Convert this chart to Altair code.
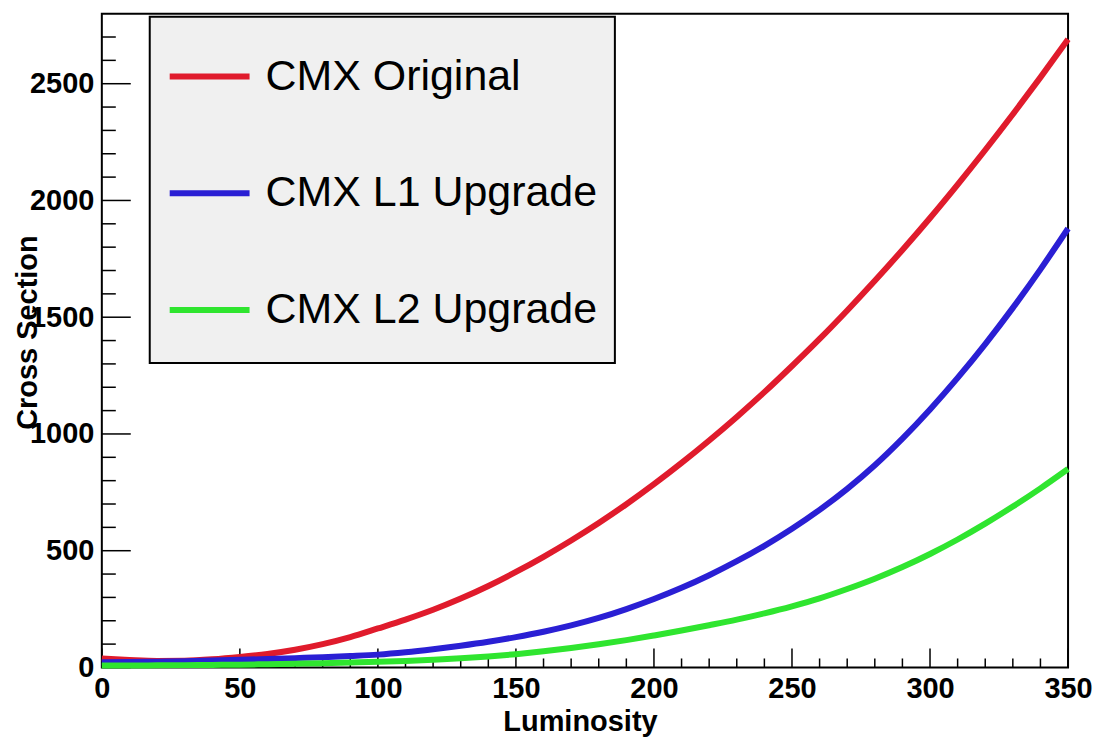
import altair as alt
import pandas as pd

# ---- data ----
luminosity = list(range(0, 351, 10))
cmx_original = [38, 32, 28, 29, 35, 45, 58, 76, 100, 130, 167, 205, 247, 295, 349, 409,
                474, 544, 619, 699, 785, 876, 972, 1073, 1179, 1291, 1407, 1529, 1656,
                1788, 1925, 2068, 2216, 2369, 2527, 2690]
cmx_l1 = [22, 23, 25, 27, 30, 33, 36, 40, 44, 49, 55, 65, 78, 93, 110, 130, 153, 180,
          212, 250, 293, 341, 395, 455, 521, 594, 675, 765, 866, 980, 1105, 1240, 1385,
          1540, 1705, 1880]
cmx_l2 = [8, 8, 9, 10, 11, 12, 14, 16, 18, 21, 24, 28, 33, 39, 47, 57, 69, 83, 99, 117,
          137, 158, 181, 205, 232, 262, 296, 336, 380, 430, 486, 548, 616, 689, 767, 850]
series_names = ["CMX Original", "CMX L1 Upgrade", "CMX L2 Upgrade"]
series_colors = ["#e01b2c", "#2a1fd4", "#2fe52f"]

x_major = list(range(0, 351, 50))
x_minor = [v for v in range(0, 351, 10) if v % 50]
y_major = list(range(0, 2501, 500))
y_minor = [v for v in range(100, 2800, 100) if v % 500]

rows = []
for name, vals in zip(series_names, [cmx_original, cmx_l1, cmx_l2]):
    for l, v in zip(luminosity, vals):
        rows.append({"lum": l, "xs": v, "series": name})
df = pd.DataFrame(rows)

W, H = 968, 655
FONT = "Liberation Sans"

xs = alt.Scale(domain=[0, 350], nice=False, zero=False)
ys = alt.Scale(domain=[0, 2800], nice=False)

lines = alt.Chart(df).mark_line(strokeWidth=6, interpolate="monotone").encode(
    x=alt.X("lum:Q", scale=xs, axis=alt.Axis(
        title="Luminosity", values=x_major, format="d", ticks=False, tickSize=0,
        domain=False, grid=False, labelFont=FONT, labelFontSize=29,
        labelFontWeight="bold", labelColor="black", labelPadding=30,
        labelBaseline="alphabetic", labelFlush=False, labelOverlap=False,
        titleFont=FONT, titleFontSize=29, titleFontWeight="bold", titleColor="black",
        titleX=479, titleY=63, titleBaseline="alphabetic", titleAlign="center")),
    y=alt.Y("xs:Q", scale=ys, axis=alt.Axis(
        title="Cross Section", values=y_major, format="d", ticks=False, tickSize=0,
        domain=False, grid=False, labelFont=FONT, labelFontSize=29,
        labelFontWeight="bold", labelColor="black", labelPadding=8,
        labelOverlap=False,
        titleFont=FONT, titleFontSize=29, titleFontWeight="bold", titleColor="black",
        titleX=-74, titleY=319, titleAngle=270, titleBaseline="middle",
        titleAlign="center")),
    color=alt.Color("series:N",
                    scale=alt.Scale(domain=series_names, range=series_colors),
                    sort=series_names,
                    legend=alt.Legend(
                        title=" ", titleOrient="bottom", titleFontSize=12,
                        titlePadding=3,
                        orient="none", legendX=48, legendY=3,
                        symbolType="stroke", symbolSize=6400, symbolStrokeWidth=6,
                        labelFont=FONT, labelFontSize=43, labelColor="black",
                        labelOffset=13, labelLimit=600, rowPadding=52, padding=17,
                        fillColor="#f0f0f0", strokeColor="black")),
    order=alt.Order("series:N", sort="descending"),
)

xmaj_df = pd.DataFrame({"v": x_major})
xmin_df = pd.DataFrame({"v": x_minor})
ymaj_df = pd.DataFrame({"v": y_major})
ymin_df = pd.DataFrame({"v": y_minor})

x_major_ticks = alt.Chart(xmaj_df).mark_rule(color="black", strokeWidth=1.5).encode(
    x=alt.X("v:Q", scale=xs), y=alt.value(H), y2=alt.value(H - 19))
x_minor_ticks = alt.Chart(xmin_df).mark_rule(color="black", strokeWidth=1.5).encode(
    x=alt.X("v:Q", scale=xs), y=alt.value(H), y2=alt.value(H - 9))
y_major_ticks = alt.Chart(ymaj_df).mark_rule(color="black", strokeWidth=1.5).encode(
    y=alt.Y("v:Q", scale=ys), x=alt.value(0), x2=alt.value(29))
y_minor_ticks = alt.Chart(ymin_df).mark_rule(color="black", strokeWidth=1.5).encode(
    y=alt.Y("v:Q", scale=ys), x=alt.value(0), x2=alt.value(14))

chart = alt.layer(
    x_major_ticks, x_minor_ticks, y_major_ticks, y_minor_ticks, lines
).properties(
    width=W, height=H,
    autosize=alt.AutoSizeParams(type="none"),
    padding={"left": 94, "top": 5, "right": 27, "bottom": 70},
    background="white",
).configure_view(
    stroke="black", strokeWidth=2, fill="white"
).configure_legend(
    strokeWidth=2
)

chart.save("out.html", embed_options={"renderer": "svg", "actions": False})
